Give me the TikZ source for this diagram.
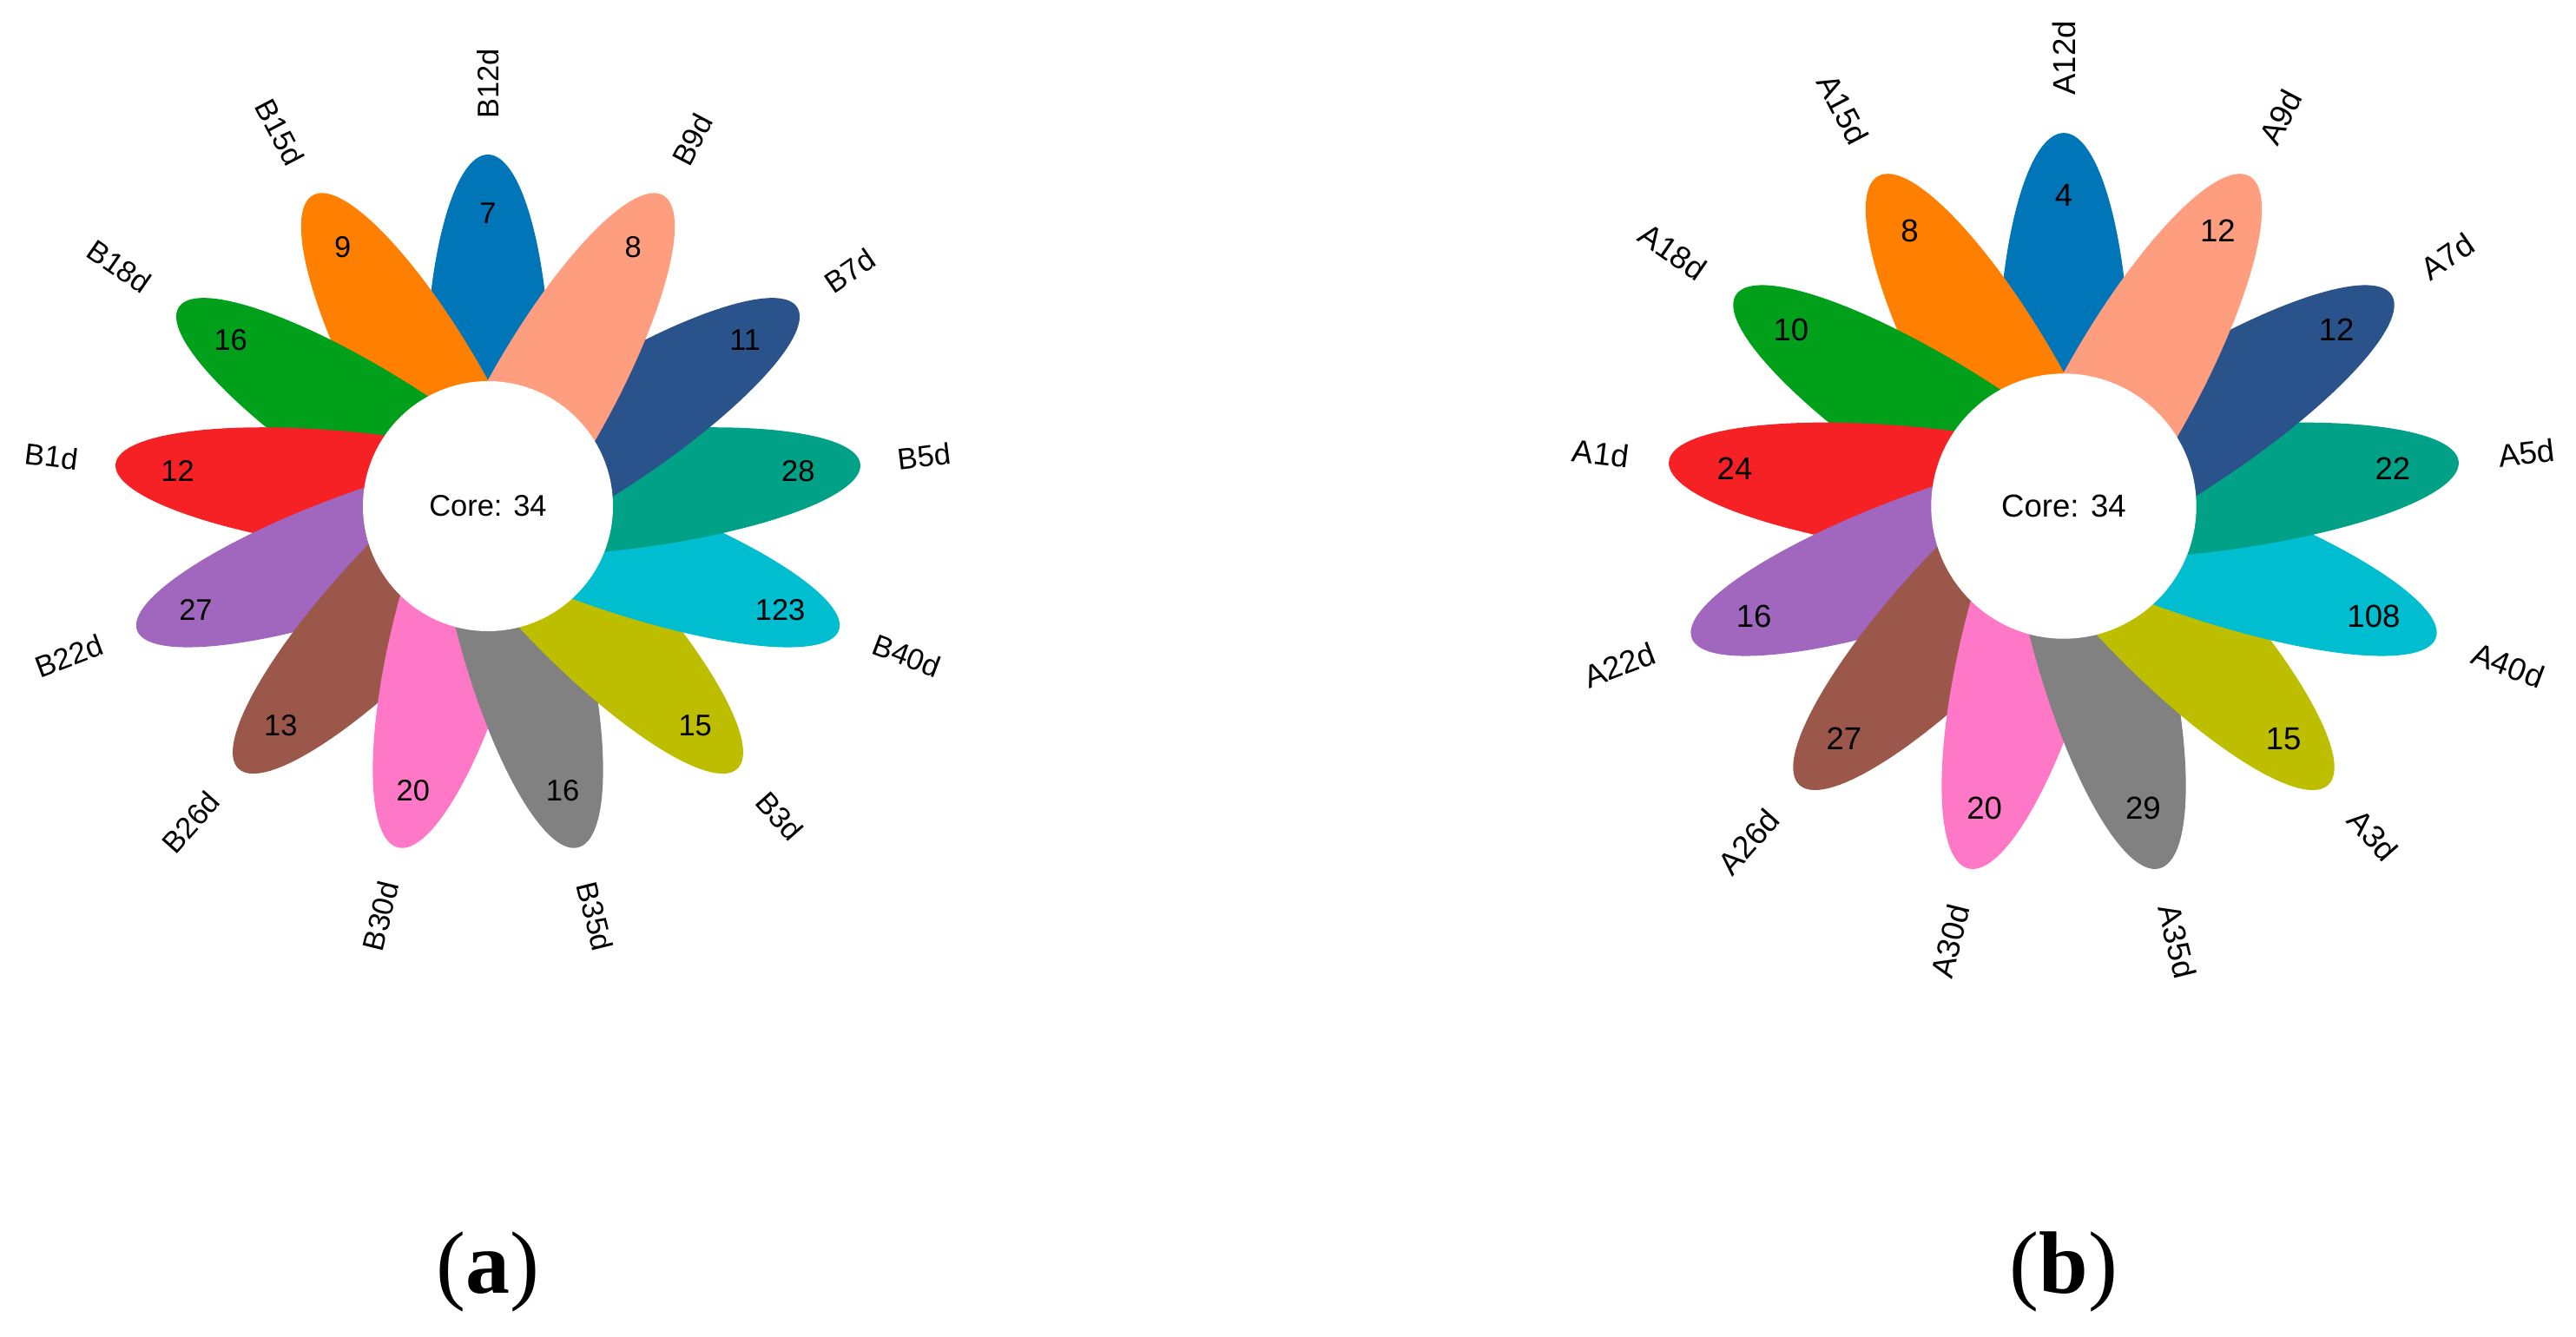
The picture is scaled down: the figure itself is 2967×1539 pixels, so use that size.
\documentclass[tikz,border=0pt]{standalone}
\usepackage{fontspec}
\setmainfont{Liberation Sans}
\newfontfamily\capfont{Liberation Serif}
\definecolor{p1}{RGB}{0,118,185}
\definecolor{p2}{RGB}{255,128,0}
\definecolor{p3}{RGB}{0,160,26}
\definecolor{p4}{RGB}{246,33,36}
\definecolor{p5}{RGB}{161,102,190}
\definecolor{p6}{RGB}{155,88,74}
\definecolor{p7}{RGB}{255,120,200}
\definecolor{p8}{RGB}{129,129,129}
\definecolor{p9}{RGB}{190,190,0}
\definecolor{p10}{RGB}{0,190,208}
\definecolor{p11}{RGB}{0,161,135}
\definecolor{p12}{RGB}{43,83,139}
\definecolor{p13}{RGB}{255,157,127}
\tikzset{
  numlab/.style={inner sep=0pt, text=black},
  namelab/.style={inner sep=0pt, text=black},
  corenode/.style={circle, fill=white, inner sep=0pt, text=black},
  captxt/.style={font=\capfont\fontsize{29}{35}\selectfont, inner sep=0pt, text=black}
}
% #1 prefix, #2 cx, #3 cy, #4 sx, #5 sy, #6 font size, #7 core, #8 list
\newcommand\flowerplot[8]{%
  \begin{scope}[shift={(#2,#3)}, xscale=#4, yscale=#5]
    \foreach \i/\lab/\num in {#8} {
      \pgfmathsetmacro\ang{90+360/13*(\i-1)}
      \fill[fill=p\i, rotate=\ang] (1,0) ellipse [x radius=2, y radius=0.5];
    }
  \end{scope}
  \node[corenode, minimum size={0.2mm*#4}, font=\fontsize{#6}{#6}\selectfont] (#1core) at (#2,#3) {Core: #7};
  \foreach \i/\lab/\num in {#8} {
    \pgfmathsetmacro\ang{90+360/13*(\i-1)}
    \node[numlab, font=\fontsize{#6}{#6}\selectfont] (#1num\i) at ({#2+2.5*#4*cos(\ang)}, {#3-2.5*#5*sin(\ang)}) {\num};
    \ifnum\i>1\relax
      \ifnum\i<8\relax
        \def\rot{\ang-180}\def\anc{east}%
      \else
        \def\rot{\ang}\def\anc{west}%
      \fi
    \else
      \def\rot{\ang}\def\anc{west}%
    \fi
    \node[namelab, rotate=\rot, anchor=\anc, font=\fontsize{#6}{#6}\selectfont] (#1lab\i) at ({#2+3.3*#4*cos(\ang)}, {#3-3.3*#5*sin(\ang)}) {\lab};
  }
}
\begin{document}
\begin{tikzpicture}[x=0.1mm, y=-0.1mm]
  \fill[white] (0,0) rectangle (2967,1539);
  \useasboundingbox (0,0) rectangle (2967,1539);
  \flowerplot{a}{562}{583}{144}{135}{9.8}{34}{1/B12d/7, 2/B15d/9, 3/B18d/16, 4/B1d/12, 5/B22d/27, 6/B26d/13, 7/B30d/20, 8/B35d/16, 9/B3d/15, 10/B40d/123, 11/B5d/28, 12/B7d/11, 13/B9d/8}
  \flowerplot{b}{2377}{583}{152.7}{143.3}{10.4}{34}{1/A12d/4, 2/A15d/8, 3/A18d/10, 4/A1d/24, 5/A22d/16, 6/A26d/27, 7/A30d/20, 8/A35d/29, 9/A3d/15, 10/A40d/108, 11/A5d/22, 12/A7d/12, 13/A9d/12}
  \node[captxt] (capa) at (562,1465) {(\textbf{a})};
  \node[captxt] (capb) at (2377,1465) {(\textbf{b})};
\end{tikzpicture}
\end{document}
